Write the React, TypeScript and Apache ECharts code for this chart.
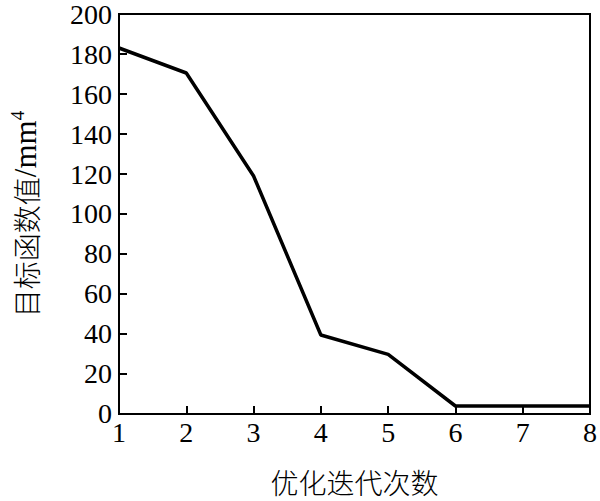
import React, { useEffect, useRef } from "react";
import * as echarts from "echarts";

const iterations = [1, 2, 3, 4, 5, 6, 7, 8];
const objectiveValues = [183, 170.5, 119, 39.5, 29.8, 4, 4, 4];
const xAxisName = "优化迭代次数";
const yAxisName = "目标函数值{lat|/mm}{sup|4}";

export default function App() {
  const ref = useRef<HTMLDivElement>(null);
  useEffect(() => {
    if (!ref.current) return;
    const chart = echarts.init(ref.current, null, { renderer: "svg" });
    const serif = "Liberation Serif";
    const cjk = "Noto Sans CJK SC";
    chart.setOption({
      animation: false,
      backgroundColor: "#fff",
      grid: {
        left: 108,
        right: 5,
        top: 11,
        bottom: 80,
        show: true,
        borderColor: "#000",
        borderWidth: 2,
        backgroundColor: "transparent",
      },
      xAxis: {
        type: "value",
        min: 1,
        max: 8,
        interval: 1,
        name: xAxisName,
        nameLocation: "middle",
        nameGap: 54,
        nameTextStyle: { fontFamily: cjk, fontSize: 28, fontWeight: 300, color: "#000" },
        axisLine: { show: true, lineStyle: { color: "#000", width: 2 } },
        axisTick: { show: true, inside: true, length: 8, lineStyle: { color: "#000", width: 2 } },
        axisLabel: { fontFamily: serif, fontSize: 28, color: "#000", margin: 5 },
        splitLine: { show: false },
      },
      yAxis: {
        type: "value",
        min: 0,
        max: 200,
        interval: 20,
        name: yAxisName,
        nameLocation: "middle",
        nameRotate: 90,
        nameGap: 76,
        nameTextStyle: {
          fontFamily: cjk,
          fontSize: 28,
          fontWeight: 300,
          color: "#000",
          rich: {
            lat: { fontFamily: serif, fontSize: 31, color: "#000" },
            sup: { fontFamily: serif, fontSize: 19, color: "#000", padding: [0, 0, 16, 0] },
          },
        },
        axisLine: { show: true, lineStyle: { color: "#000", width: 2 } },
        axisTick: { show: true, inside: true, length: 8, lineStyle: { color: "#000", width: 2 } },
        axisLabel: { fontFamily: serif, fontSize: 28, color: "#000", margin: 7 },
        splitLine: { show: false },
      },
      series: [
        {
          type: "line",
          data: iterations.map((x, i) => [x, objectiveValues[i]]),
          symbol: "none",
          lineStyle: { color: "#000", width: 3.5 },
        },
      ],
    });
    return () => chart.dispose();
  }, []);
  return <div ref={ref} style={{ width: 600, height: 501, position: "absolute", left: 0, top: 0 }} />;
}
